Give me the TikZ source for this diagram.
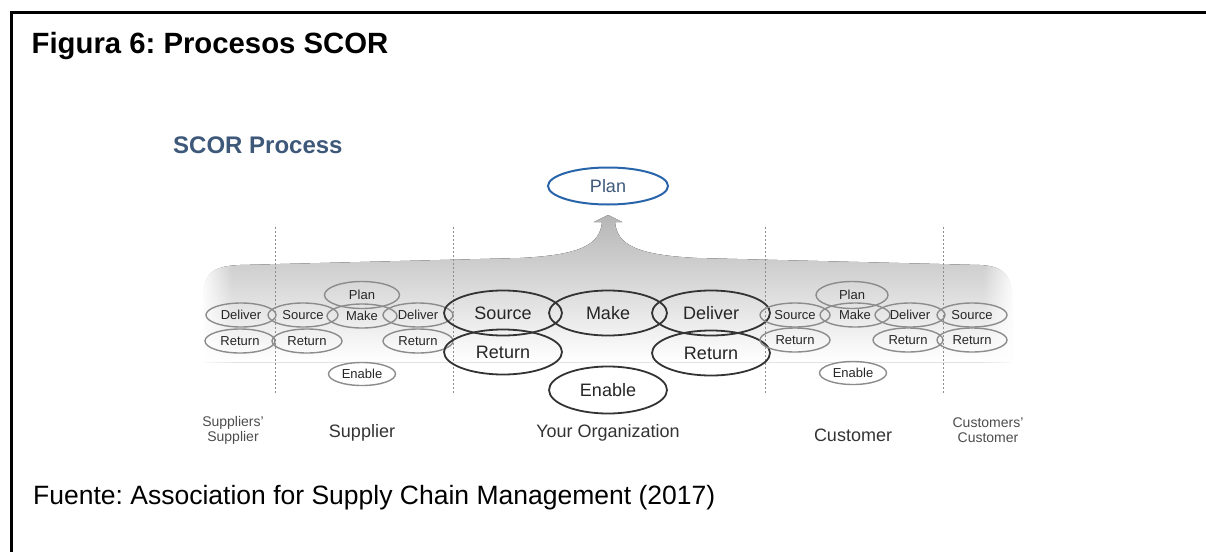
\documentclass[tikz,border=0pt]{standalone}
\usepackage{fontspec}
\setmainfont{Liberation Sans}
\usetikzlibrary{shapes.geometric,fadings}
\frenchspacing

\definecolor{planblue}{RGB}{40,100,170}
\definecolor{headblue}{RGB}{62,88,122}
\definecolor{ringgray}{RGB}{140,140,140}
\definecolor{bandtop}{RGB}{182,182,182}
\definecolor{bandmid}{RGB}{210,210,210}

\begin{document}
\begin{tikzpicture}[x=1pt,y=-1pt,
    small/.style={ellipse,draw=ringgray,line width=1.4pt,minimum width=70pt,minimum height=24pt,inner sep=0pt,font=\fontsize{13}{13}\selectfont,text=black!85},
    big/.style={ellipse,draw=black!80,line width=1.8pt,minimum width=118pt,minimum height=45pt,inner sep=0pt,font=\fontsize{18}{18}\selectfont,text=black!85},
    party/.style={font=\fontsize{18}{18}\selectfont,text=black!80},
    outer/.style={align=center,font=\fontsize{14}{15}\selectfont,text=black!70}]
  \useasboundingbox (0,0) rectangle (1206,551);
  % frame and captions
  \draw[line width=3pt] (1215,12.5) -- (11.5,12.5) -- (11.5,565);
  \node[anchor=base west,inner sep=0pt,font=\fontsize{29.3}{34}\selectfont\bfseries] (title) at (31.5,53) {Figura 6: Procesos SCOR};
  \node[anchor=base west,inner sep=0pt,font=\fontsize{26.5}{32}\selectfont] (fuente) at (33,504) {Fuente: Association for Supply Chain Management (2017)};
  \node[anchor=base west,inner sep=0pt,text=headblue,font=\fontsize{24}{28}\selectfont\bfseries] (head) at (173,153) {SCOR Process};
  % gray band with the arrow to Plan
  \fill[top color=bandtop,middle color=bandmid,bottom color=white]
    (203,292) .. controls (205,272) and (215,266) .. (240,265) -- (520,258)
    .. controls (580,255) and (600,245) .. (602,222) -- (594,222) -- (608,215) -- (622,222) -- (615,222)
    .. controls (617,245) and (637,255) .. (697,258) -- (980,265)
    .. controls (1000,266) and (1010,272) .. (1012,292) -- (1012,362) -- (203,362) -- cycle;
  % soft ends of the band
  \fill[white,path fading=east] (200,255) rectangle (232,365);
  \fill[white,path fading=west] (983,255) rectangle (1015,365);
  \foreach \x in {275,453,765,943}
    \draw[ringgray,line width=1pt,dash pattern=on 2pt off 2pt] (\x,227) -- (\x,393);
  % suppliers' supplier and supplier
  \node[small] (ssdel) at (241,315) {Deliver};
  \node[small] (ssret) at (240,341) {Return};
  \node[small] (supsrc) at (303,315) {Source};
  \node[small] (supretA) at (307,341) {Return};
  \node[small,minimum width=75pt,minimum height=27pt] (supplan) at (362,295) {Plan};
  \node[small] (supmake) at (362,316) {Make};
  \node[small] (supdel) at (418,315) {Deliver};
  \node[small] (supretB) at (418,341) {Return};
  \node[small,minimum width=67pt,minimum height=23pt] (supen) at (362,374) {Enable};
  % your organization
  \node[big,draw=planblue,line width=2pt,text=headblue,minimum width=120pt,minimum height=37pt] (orgplan) at (608,186) {Plan};
  \node[big] (orgsrc) at (503,313) {Source};
  \node[big] (orgmake) at (608,313) {Make};
  \node[big] (orgdel) at (711,313) {Deliver};
  \node[big] (orgretA) at (503,352) {Return};
  \node[big] (orgretB) at (711,353) {Return};
  \node[big,minimum height=47pt] (orgen) at (608,390) {Enable};
  % customer and customers' customer
  \node[small] (cussrc) at (795,315) {Source};
  \node[small] (cusretA) at (795,340) {Return};
  \node[small,minimum width=72pt,minimum height=27pt] (cusplan) at (852,295) {Plan};
  \node[small] (cusmake) at (855,315) {Make};
  \node[small] (cusdel) at (910,315) {Deliver};
  \node[small] (cusretB) at (908,340) {Return};
  \node[small,minimum width=67pt,minimum height=23pt] (cusen) at (853,373) {Enable};
  \node[small] (ccsrc) at (972,315) {Source};
  \node[small] (ccret) at (972,340) {Return};
  % names of the parties
  \node[outer] (sslabel) at (233,430) {Suppliers'\\Supplier};
  \node[party] (suplabel) at (362,433) {Supplier};
  \node[party] (orglabel) at (608,433) {Your Organization};
  \node[party] (cuslabel) at (853,435) {Customer};
  \node[outer] (cclabel) at (988,430) {Customers'\\Customer};
\end{tikzpicture}
\end{document}
